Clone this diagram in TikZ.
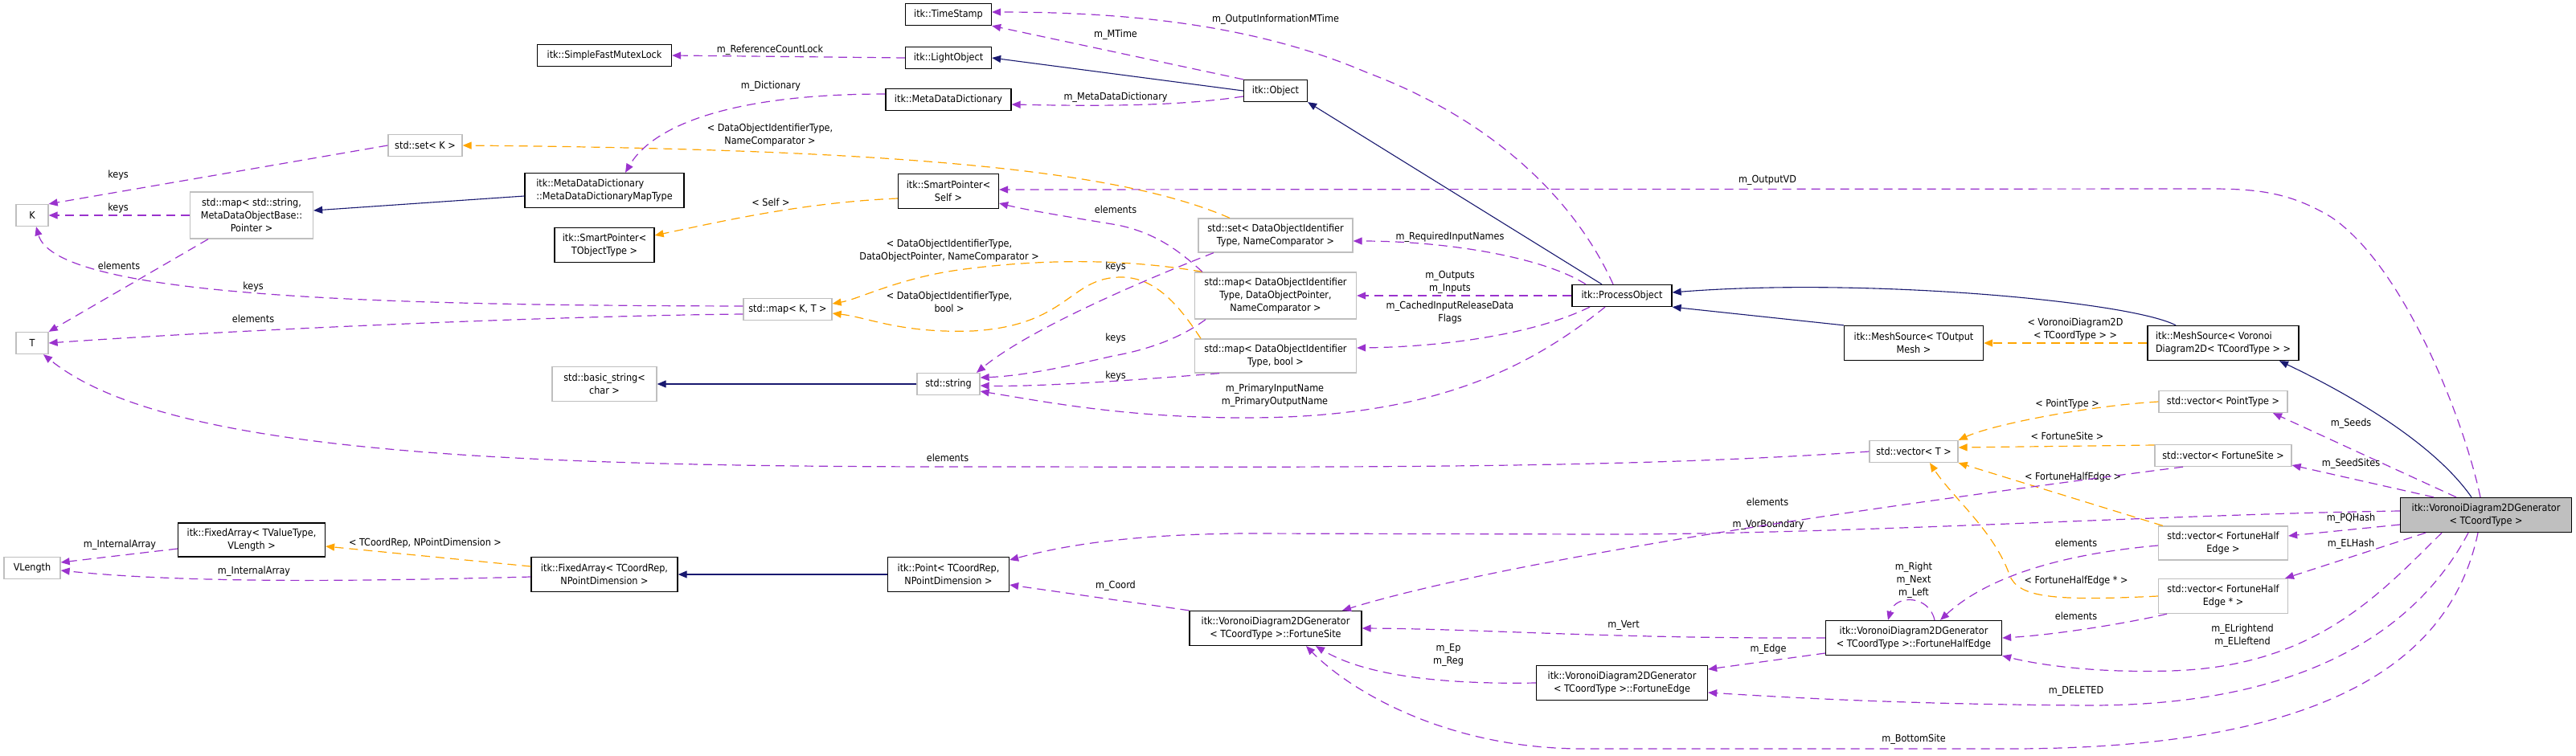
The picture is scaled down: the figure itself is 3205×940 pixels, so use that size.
\documentclass[tikz,border=0pt]{standalone}
\usepackage{fontspec}
\setmainfont{DejaVu Sans Condensed}
\usepackage{tikz}
\usetikzlibrary{arrows.meta}
\definecolor{usecol}{HTML}{9A32CD}
\definecolor{tplcol}{HTML}{FFA500}
\definecolor{inhcol}{HTML}{191970}
\definecolor{extcol}{HTML}{BFBFBF}
\tikzset{
  cls/.style      ={draw=black, fill=white, line width=1.3pt, inner sep=2pt, align=center, minimum height=27pt},
  extcls/.style   ={cls, draw=extcol},
  mainclass/.style={cls, fill=extcol},
  inh/.style      ={-{Triangle[length=11pt,width=9pt]}, draw=inhcol, line width=1.1pt},                           % derived -> base
  tpl/.style      ={-{Triangle[length=11pt,width=9pt]}, draw=tplcol, line width=1.2pt, dash pattern=on 11pt off 7pt}, % instance -> template
  usage/.style    ={-{Triangle[length=11pt,width=9pt]}, draw=usecol, line width=1.2pt, dash pattern=on 11pt off 7pt}, % member
  lbl/.style      ={inner sep=0pt, align=center, text=black},
}

\begin{document}
\begin{tikzpicture}[x=1pt, y=-1pt, font=\fontsize{12.5}{16}\selectfont]
  \useasboundingbox (0,0) rectangle (3205,940);
  % classes
  \node[extcls, minimum width=40pt]  (k)    at (40,268)  {K};
  \node[extcls, minimum width=40pt]  (t)    at (40,427)  {T};
  \node[extcls, minimum width=70pt]  (vlen) at (40,707)  {VLength};
  \node[extcls, minimum width=153pt, minimum height=58pt] (mapstr) at (313,268) {std::map< std::string,\\MetaDataObjectBase::\\Pointer >};
  \node[cls, minimum width=183pt, minimum height=42pt]    (fixval) at (313,672) {itk::FixedArray< TValueType,\\VLength >};
  \node[extcls, minimum width=92pt]  (setk) at (529,181) {std::set< K >};
  \node[cls, minimum width=167pt]    (mutex) at (752,69) {itk::SimpleFastMutexLock};
  \node[cls, minimum width=198pt, minimum height=43pt, align=left] (mapty) at (752,237) {itk::MetaDataDictionary\\::MetaDataDictionaryMapType};
  \node[cls, minimum width=124pt, minimum height=43pt]    (spobj) at (752,305) {itk::SmartPointer<\\TObjectType >};
  \node[extcls, minimum width=130pt, minimum height=43pt] (bstr)  at (752,478) {std::basic\_string<\\char >};
  \node[cls, minimum width=182pt, minimum height=43pt]    (fixcoord) at (752,715) {itk::FixedArray< TCoordRep,\\NPointDimension >};
  \node[extcls, minimum width=110pt] (mapkt) at (980,385) {std::map< K, T >};
  \node[cls, minimum width=107pt]    (ts)   at (1180,18)  {itk::TimeStamp};
  \node[cls, minimum width=107pt]    (lobj) at (1180,72)  {itk::LightObject};
  \node[cls, minimum width=156pt]    (mdd)  at (1180,124) {itk::MetaDataDictionary};
  \node[cls, minimum width=125pt, minimum height=43pt] (spself) at (1180,238) {itk::SmartPointer<\\Self >};
  \node[extcls, minimum width=78pt]  (str)  at (1180,478) {std::string};
  \node[cls, minimum width=151pt, minimum height=43pt] (point)  at (1180,715) {itk::Point< TCoordRep,\\NPointDimension >};
  \node[cls, minimum width=79pt]     (obj)  at (1587,113) {itk::Object};
  \node[extcls, minimum width=192pt, minimum height=42pt] (setid)   at (1587,293) {std::set< DataObjectIdentifier\\Type, NameComparator >};
  \node[extcls, minimum width=201pt, minimum height=58pt] (mapptr)  at (1587,368) {std::map< DataObjectIdentifier\\Type, DataObjectPointer,\\NameComparator >};
  \node[extcls, minimum width=201pt, minimum height=42pt] (mapbool) at (1587,443) {std::map< DataObjectIdentifier\\Type, bool >};
  \node[cls, minimum width=214pt, minimum height=43pt]    (site)    at (1587,782) {itk::VoronoiDiagram2DGenerator\\< TCoordType >::FortuneSite};
  \node[cls, minimum width=124pt]    (proc) at (2018,368) {itk::ProcessObject};
  \node[cls, minimum width=213pt, minimum height=43pt] (fedge) at (2018,850) {itk::VoronoiDiagram2DGenerator\\< TCoordType >::FortuneEdge};
  \node[cls, minimum width=173pt, minimum height=43pt] (msout) at (2381,427) {itk::MeshSource< TOutput\\Mesh >};
  \node[extcls, minimum width=110pt] (vect) at (2381,562) {std::vector< T >};
  \node[cls, minimum width=219pt, minimum height=43pt] (hedge) at (2381,794) {itk::VoronoiDiagram2DGenerator\\< TCoordType >::FortuneHalfEdge};
  \node[cls, minimum width=188pt, minimum height=43pt, align=left] (msvd) at (2766,427) {itk::MeshSource< Voronoi\\Diagram2D< TCoordType > >};
  \node[extcls, minimum width=160pt] (vecpt)   at (2766,500) {std::vector< PointType >};
  \node[extcls, minimum width=170pt] (vecsite) at (2766,567) {std::vector< FortuneSite >};
  \node[extcls, minimum width=161pt, minimum height=42pt] (veche)  at (2766,676) {std::vector< FortuneHalf\\Edge >};
  \node[extcls, minimum width=161pt, minimum height=43pt] (vechep) at (2766,742) {std::vector< FortuneHalf\\Edge * >};
  \node[mainclass, minimum width=213pt, minimum height=43pt] (gen) at (3093,641) {itk::VoronoiDiagram2DGenerator\\< TCoordType >};
  % inheritance
  \draw[inh] (obj.west) -- (lobj.east);
  \draw[inh] ([xshift=-25pt]proc.north) -- (obj.south east);
  \draw[inh] (msout.north west) -- (proc.south east);
  \draw[inh] ([xshift=-59pt]msvd.north) .. controls (2650,375) and (2320,345) .. ([yshift=4pt]proc.east);
  \draw[inh] ([xshift=-18pt]gen.north) .. controls (3020,540) and (2890,475) .. ([xshift=70pt]msvd.south);
  \draw[inh] ([yshift=-7pt]mapty.west) -- ([yshift=6pt]mapstr.east);
  \draw[inh] (str.west) -- (bstr.east);
  \draw[inh] (point.west) -- (fixcoord.east);
  % template instances
  \draw[tpl] ([xshift=-57pt]setid.north) .. controls (1400,215) and (1150,186) .. (setk.east)
    node[lbl] (lsetk) at (958,168) {< DataObjectIdentifierType,\\NameComparator >};
  \draw[tpl] ([yshift=-9pt]spself.west) .. controls (1000,252) and (900,275) .. ([yshift=12pt]spobj.east)
    node[lbl] (lself) at (959,252) {< Self >};
  \draw[tpl] ([xshift=-91pt]mapptr.north) .. controls (1400,322) and (1300,322) .. (1200,335) .. controls (1120,345) and (1070,372) .. ([yshift=7pt]mapkt.east)
    node[lbl] (lmapptr) at (1181,312) {< DataObjectIdentifierType,\\DataObjectPointer, NameComparator >};
  \draw[tpl] ([xshift=-93pt]mapbool.north) .. controls (1470,385) and (1440,345) .. (1395,345) .. controls (1330,345) and (1330,405) .. (1210,412) .. controls (1120,415) and (1080,395) .. ([yshift=-5pt]mapkt.east)
    node[lbl] (lmapbool) at (1181,376) {< DataObjectIdentifierType,\\bool >};
  \draw[tpl] ([yshift=10pt]fixcoord.west) -- ([yshift=-8pt]fixval.east)
    node[lbl] (lfix) at (529,676) {< TCoordRep, NPointDimension >};
  \draw[tpl] (msvd.west) -- (msout.east)
    node[lbl] (lmesh) at (2582,410) {< VoronoiDiagram2D\\< TCoordType > >};
  \draw[tpl] (vecpt.west) .. controls (2600,505) and (2480,528) .. (vect.north east)
    node[lbl] (lpt) at (2572,503) {< PointType >};
  \draw[tpl] ([yshift=13pt]vecsite.west) -- ([yshift=5pt]vect.east)
    node[lbl] (lsite) at (2572,543) {< FortuneSite >};
  \draw[tpl] ([xshift=6pt]veche.north west) -- (vect.south east)
    node[lbl] (lhe) at (2579,594) {< FortuneHalfEdge >};
  \draw[tpl] (vechep.west) .. controls (2560,748) and (2510,745) .. (2500,715) .. controls (2480,660) and (2430,620) .. ([xshift=20pt]vect.south)
    node[lbl] (lhep) at (2583,723) {< FortuneHalfEdge * >};
  % members
  \draw[usage] (lobj.west) -- (mutex.east)
    node[lbl] (lmutex) at (958,62) {m\_ReferenceCountLock};
  \draw[usage] (obj.north west) -- (ts.south east)
    node[lbl] (lmtime) at (1388,43) {m\_MTime};
  \draw[usage] ([yshift=-7pt]obj.west) .. controls (1480,130) and (1400,133) .. ([yshift=-6pt]mdd.east)
    node[lbl] (lmdd) at (1388,121) {m\_MetaDataDictionary};
  \draw[usage] ([xshift=-11pt]proc.north) .. controls (1960,250) and (1860,150) .. (1700,90) .. controls (1560,30) and (1400,15) .. ([yshift=3pt]ts.east)
    node[lbl] (lomtime) at (1587,24) {m\_OutputInformationMTime};
  \draw[usage] ([yshift=7pt]mdd.west) .. controls (900,117) and (810,160) .. ([xshift=26pt]mapty.north)
    node[lbl] (ldict) at (959,107) {m\_Dictionary};
  \draw[usage] (setk.west) -- (k.north east)
    node[lbl] (lkeys1) at (147,218) {keys};
  \draw[usage] (mapstr.west) -- (k.east)
    node[lbl] (lkeys2) at (147,259) {keys};
  \draw[usage] ([xshift=-54pt]mapstr.south) -- (t.north east)
    node[lbl] (lelem1) at (148,331) {elements};
  \draw[usage] ([yshift=4pt]mapkt.west) .. controls (500,380) and (70,372) .. ([xshift=5pt]k.south)
    node[lbl] (lkeys3) at (315,357) {keys};
  \draw[usage] ([yshift=-6pt]mapkt.west) .. controls (700,393) and (300,410) .. (t.east)
    node[lbl] (lelem2) at (315,397) {elements};
  \draw[usage] (vect.west) .. controls (2000,585) and (1600,581) .. (1200,581) .. controls (600,581) and (200,560) .. ([xshift=14pt]t.south)
    node[lbl] (lelem3) at (1179,570) {elements};
  \draw[usage] ([yshift=-11pt]fixval.west) -- ([yshift=7pt]vlen.east)
    node[lbl] (liarr1) at (149,678) {m\_InternalArray};
  \draw[usage] ([yshift=-3pt]fixcoord.west) .. controls (500,722) and (250,728) .. ([yshift=-3pt]vlen.east)
    node[lbl] (liarr2) at (316,711) {m\_InternalArray};
  \draw[usage] (site.north west) -- ([yshift=-13pt]point.east)
    node[lbl] (lcoord) at (1388,729) {m\_Coord};
  \draw[usage] ([yshift=5pt]gen.west) .. controls (2700,640) and (2300,665) .. (2000,665) -- (1550,664) .. controls (1400,665) and (1320,680) .. ([yshift=18pt]point.east)
    node[lbl] (lvorb) at (2200,653) {m\_VorBoundary};
  \draw[usage] ([xshift=-50pt]vecsite.south) .. controls (2400,622) and (1900,690) .. ([xshift=83pt]site.north)
    node[lbl] (lelem4) at (2199,625) {elements};
  \draw[usage] ([xshift=-37pt]gen.north) -- ([xshift=62pt]vecpt.south)
    node[lbl] (lseeds) at (2925,527) {m\_Seeds};
  \draw[usage] ([xshift=-65pt]gen.north) -- ([yshift=-12pt]vecsite.east)
    node[lbl] (lseedsites) at (2925,577) {m\_SeedSites};
  \draw[usage] ([yshift=-12pt]gen.west) -- ([yshift=9pt]veche.east)
    node[lbl] (lpq) at (2925,645) {m\_PQHash};
  \draw[usage] ([xshift=-75pt]gen.south) -- ([xshift=77pt]vechep.north)
    node[lbl] (lelhash) at (2925,677) {m\_ELHash};
  \draw[usage] ([xshift=-55pt]gen.south) .. controls (2960,740) and (2880,830) .. (2700,835) .. controls (2600,838) and (2530,826) .. (hedge.south east)
    node[lbl] (lelr) at (2790,791) {m\_ELrightend\\m\_ELleftend};
  \draw[usage] ([xshift=-22pt]gen.south) .. controls (3020,760) and (2900,878) .. (2600,878) .. controls (2400,877) and (2250,870) .. ([yshift=-12pt]fedge.east)
    node[lbl] (ldel) at (2583,860) {m\_DELETED};
  \draw[usage] ([xshift=-10pt]gen.south) .. controls (3050,820) and (2900,932) .. (2500,932) -- (1970,932) .. controls (1800,932) and (1680,860) .. ([xshift=38pt]site.south)
    node[lbl] (lbottom) at (2381,920) {m\_BottomSite};
  \draw[usage] (hedge.west) .. controls (2000,795) and (1850,783) .. (site.east)
    node[lbl] (lvert) at (2020,778) {m\_Vert};
  \draw[usage] ([yshift=-19pt]hedge.west) -- ([yshift=17pt]fedge.east)
    node[lbl] (ledge) at (2200,808) {m\_Edge};
  \draw[usage] (fedge.west) .. controls (1800,852) and (1700,842) .. ([xshift=50pt]site.south)
    node[lbl] (lepreg) at (1802,815) {m\_Ep\\m\_Reg};
  \draw[usage] ([xshift=26pt]hedge.north) .. controls (2400,740) and (2358,740) .. ([xshift=-32pt]hedge.north)
    node[lbl] (lloop) at (2381,722) {m\_Right\\m\_Next\\m\_Left};
  \draw[usage] ([yshift=-3pt]veche.west) .. controls (2560,690) and (2470,720) .. ([xshift=33pt]hedge.north)
    node[lbl] (lelem5) at (2583,676) {elements};
  \draw[usage] ([xshift=-70pt]vechep.south) .. controls (2650,775) and (2560,790) .. (hedge.east)
    node[lbl] (lelem6) at (2583,767) {elements};
  \draw[usage] ([xshift=-7pt]gen.north) .. controls (3065,520) and (2990,330) .. (2900,270) .. controls (2850,240) and (2810,235) .. (2750,235) -- ([yshift=2pt]spself.east)
    node[lbl] (lovd) at (2199,224) {m\_OutputVD};
  \draw[usage] ([xshift=-91pt]mapptr.north) .. controls (1470,315) and (1440,290) .. (1390,280) .. controls (1330,270) and (1280,262) .. ([yshift=-15pt]spself.east)
    node[lbl] (lelem7) at (1388,261) {elements};
  \draw[usage] ([xshift=-77pt]setid.south) .. controls (1420,350) and (1280,410) .. ([xshift=35pt]str.north)
    node[lbl] (lkeys4) at (1388,332) {keys};
  \draw[usage] ([xshift=-87pt]mapptr.south) .. controls (1470,420) and (1430,435) .. (1385,443) .. controls (1320,458) and (1270,468) .. ([yshift=8pt]str.east)
    node[lbl] (lkeys5) at (1388,421) {keys};
  \draw[usage] ([xshift=-70pt]mapbool.south) .. controls (1450,470) and (1300,482) .. ([yshift=-2pt]str.east)
    node[lbl] (lkeys6) at (1388,468) {keys};
  \draw[usage] ([xshift=-21pt]proc.south) .. controls (1900,460) and (1780,520) .. (1550,520) .. controls (1400,520) and (1300,500) .. ([yshift=-9pt]str.east)
    node[lbl] (lprim) at (1586,492) {m\_PrimaryInputName\\m\_PrimaryOutputName};
  \draw[usage] ([xshift=-45pt]proc.north) .. controls (1920,320) and (1800,300) .. ([yshift=-7pt]setid.east)
    node[lbl] (lreq) at (1804,295) {m\_RequiredInputNames};
  \draw[usage] (proc.west) -- (mapptr.east)
    node[lbl] (linout) at (1804,351) {m\_Outputs\\m\_Inputs};
  \draw[usage] ([xshift=-40pt]proc.south) .. controls (1900,420) and (1780,432) .. ([yshift=10pt]mapbool.east)
    node[lbl] (lcached) at (1804,389) {m\_CachedInputReleaseData\\Flags};
\end{tikzpicture}
\end{document}
